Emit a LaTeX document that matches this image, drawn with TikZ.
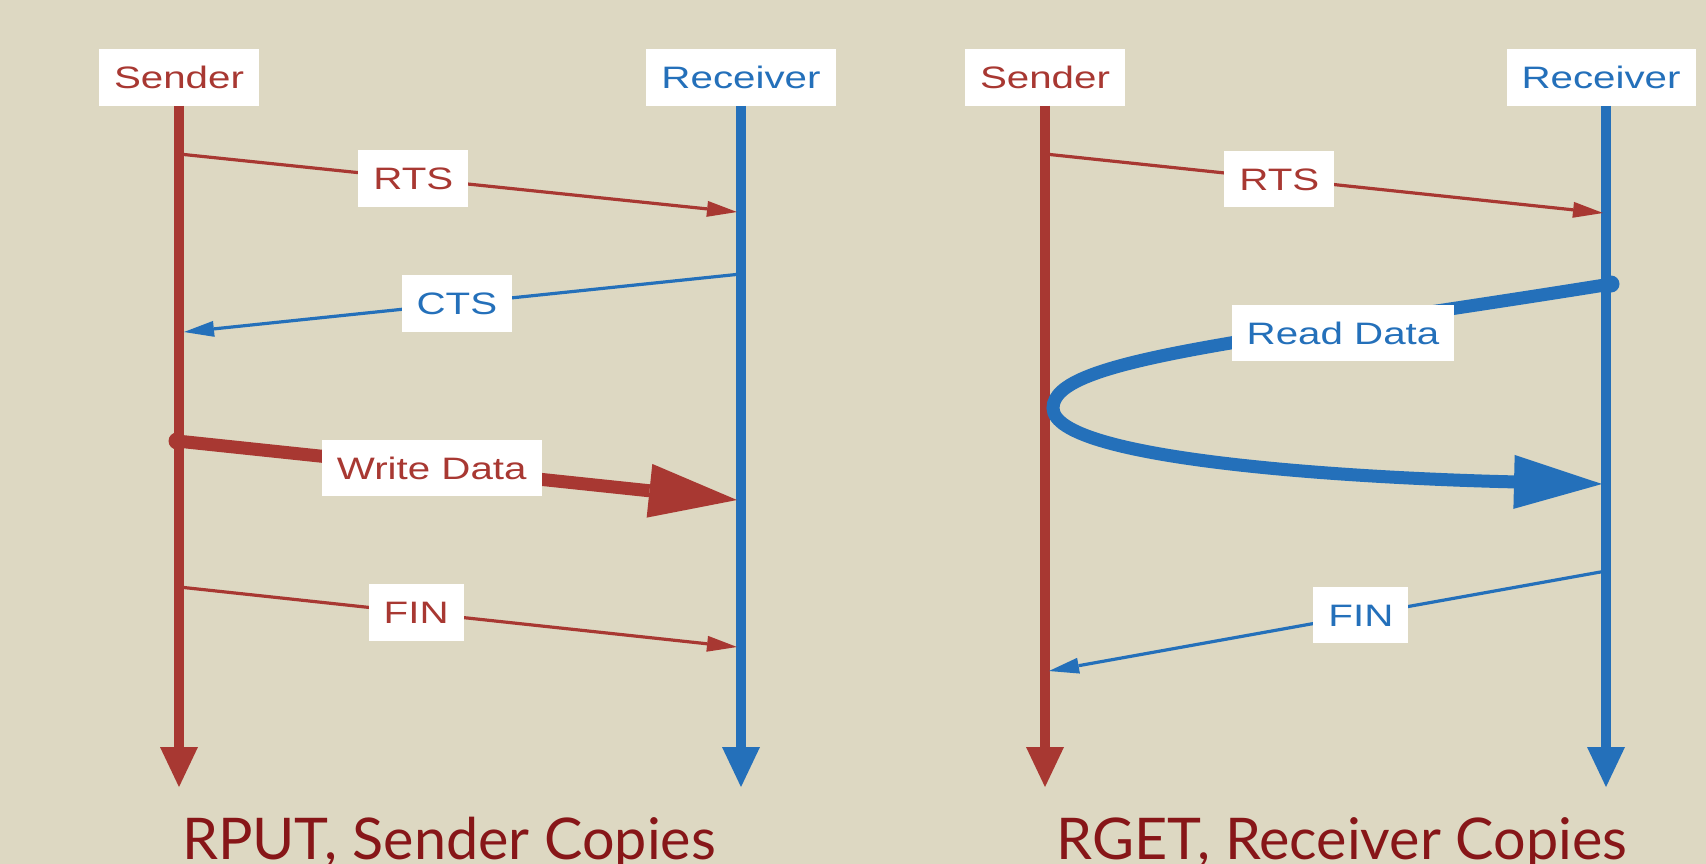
\documentclass[tikz,border=0pt]{standalone}
\usepackage{fontspec}
\setmainfont{Liberation Sans}
\newfontfamily\lblfont[FakeStretch=1.3]{Liberation Sans}
\newfontfamily\capfont{Lato}
\usetikzlibrary{arrows.meta}
\definecolor{bg}{RGB}{221,216,194}
\definecolor{sred}{RGB}{168,56,50}
\definecolor{rblue}{RGB}{36,112,186}
\definecolor{capred}{RGB}{135,22,24}
\begin{document}
\begin{tikzpicture}[x=1pt,y=-1pt,
  lbl/.style={fill=white, inner xsep=15pt, inner ysep=17pt, text height=22.5pt, text depth=0pt, font=\lblfont\fontsize{31}{31}\selectfont},
  life/.style={line width=10pt, -{Triangle[length=40pt,width=38pt,line width=0pt]}},
  msg/.style={line width=3.2pt, -{Triangle[length=30pt,width=16pt,line width=0pt]}},
  bulk/.style={line width=13pt, -{Triangle[length=88pt,width=54pt,line width=0pt]}},
  captext/.style={font=\capfont\fontsize{57.5}{57.5}\selectfont, text=capred, anchor=base, inner sep=0pt}
]
\useasboundingbox (0,0) rectangle (1706,864);
\fill[bg] (0,0) rectangle (1706,864);

% lifeline heads
\node[lbl, text=sred] (s1) at (179,77.5) {Sender};
\node[lbl, text=rblue] (r1) at (741,77.5) {Receiver};
\node[lbl, text=sred] (s2) at (1045,77.5) {Sender};
\node[lbl, text=rblue] (r2) at (1601,77.5) {Receiver};

% lifeline ends
\coordinate (s1e) at (179,787);
\coordinate (r1e) at (741,787);
\coordinate (s2e) at (1045,787);
\coordinate (r2t) at (1606,106);
\coordinate (r2e) at (1606,787);

\draw[life, sred] (s1.south) -- (s1e);
\draw[life, rblue] (r1.south) -- (r1e);
\draw[life, sred] (s2.south) -- (s2e);
\draw[life, rblue] (r2t) -- (r2e);

% left panel messages
\coordinate (a1) at (179,154);
\coordinate (a2) at (737,212);
\coordinate (b1) at (741,274);
\coordinate (b2) at (184,332);
\coordinate (w1) at (177,441);
\coordinate (w2) at (737,500);
\coordinate (f1) at (179,587);
\coordinate (f2) at (737,647);

\draw[msg, sred] (a1) -- node[lbl, pos=0.42, text=sred] (rts1) {RTS} (a2);
\draw[msg, rblue] (b1) -- node[lbl, pos=0.51, text=rblue] (cts1) {CTS} (b2);
\fill[sred] (w1) circle (8.5pt);
\draw[bulk, sred] (w1) -- node[lbl, pos=0.455, text=sred] (wd1) {Write Data} (w2);
\draw[msg, sred] (f1) -- node[lbl, pos=0.425, text=sred] (fin1) {FIN} (f2);

% right panel messages
\coordinate (c1) at (1045,154);
\coordinate (c2) at (1603,213);
\coordinate (rdS) at (1611,284);
\coordinate (rdL) at (1053,408);
\coordinate (rdE) at (1602,484);
\coordinate (g1) at (1606,571);
\coordinate (g2) at (1049,671);

\draw[msg, sred] (c1) -- node[lbl, pos=0.42, text=sred] (rts2) {RTS} (c2);
\fill[rblue] (rdS) circle (8.5pt);
\draw[bulk, rblue] (rdS) .. controls (1250,342) and (1053,358) .. (rdL)
                         .. controls (1053,460) and (1350,478) .. (rdE);
\node[lbl, text=rblue] (rd2) at (1343,333) {Read Data};
\draw[msg, rblue] (g1) -- node[lbl, pos=0.44, text=rblue] (fin2) {FIN} (g2);

% captions
\node[captext] (cap1) at (449,859) {RPUT, Sender Copies};
\node[captext] (cap2) at (1342,859) {RGET, Receiver Copies};
\end{tikzpicture}
\end{document}
